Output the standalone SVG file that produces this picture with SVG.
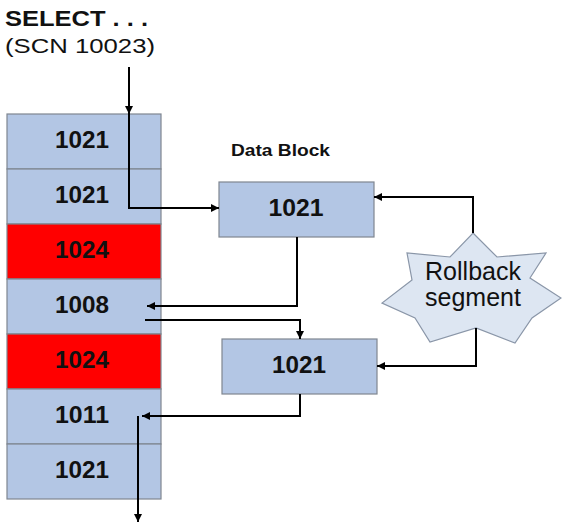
<svg xmlns="http://www.w3.org/2000/svg" width="562" height="523" viewBox="0 0 562 523">
<style>
  .cell { fill: #b3c6e4; stroke: #7f8690; stroke-width: 1.2; }
  .red { fill: #ff0000; stroke: #7f8690; stroke-width: 1.2; }
  .num { font-family: "Liberation Sans", Arial, sans-serif; font-weight: bold; font-size: 23px; fill: #111; text-anchor: middle; }
  .conn { fill: none; stroke: #000; stroke-width: 2; }
  .hdr { font-family: "Liberation Sans", Arial, sans-serif; fill: #111; }
</style>
<defs>
  <marker id="ah" viewBox="0 0 10 10" refX="10" refY="5" markerWidth="9" markerHeight="8" orient="auto" markerUnits="userSpaceOnUse">
    <path d="M0,0 L10,5 L0,10 z" fill="#000"/>
  </marker>
</defs>
<rect width="562" height="523" fill="#fff"/>

<g id="header">
  <text class="hdr" x="5" y="26" font-size="22" font-weight="bold" textLength="143" lengthAdjust="spacingAndGlyphs">SELECT . . .</text>
  <text class="hdr" x="5" y="53" font-size="21" textLength="150" lengthAdjust="spacingAndGlyphs">(SCN 10023)</text>
</g>

<g id="column">
  <g id="row1"><rect class="cell" x="7" y="114" width="154" height="55"/><text class="num" x="82" y="148" textLength="54" lengthAdjust="spacingAndGlyphs">1021</text></g>
  <g id="row2"><rect class="cell" x="7" y="169" width="154" height="55"/><text class="num" x="82" y="203" textLength="54" lengthAdjust="spacingAndGlyphs">1021</text></g>
  <g id="row3"><rect class="red" x="7" y="224" width="154" height="55"/><text class="num" x="82" y="258" textLength="54" lengthAdjust="spacingAndGlyphs">1024</text></g>
  <g id="row4"><rect class="cell" x="7" y="279" width="154" height="55"/><text class="num" x="82" y="313" textLength="54" lengthAdjust="spacingAndGlyphs">1008</text></g>
  <g id="row5"><rect class="red" x="7" y="334" width="154" height="55"/><text class="num" x="82" y="368" textLength="54" lengthAdjust="spacingAndGlyphs">1024</text></g>
  <g id="row6"><rect class="cell" x="7" y="389" width="154" height="55"/><text class="num" x="82" y="423" textLength="54" lengthAdjust="spacingAndGlyphs">1011</text></g>
  <g id="row7"><rect class="cell" x="7" y="444" width="154" height="55"/><text class="num" x="82" y="478" textLength="54" lengthAdjust="spacingAndGlyphs">1021</text></g>
</g>

<g id="datablock-label">
  <text class="hdr" x="231" y="156" font-size="17" font-weight="bold" textLength="99" lengthAdjust="spacingAndGlyphs">Data Block</text>
</g>

<g id="block1">
  <rect class="cell" x="219" y="182" width="155" height="55"/>
  <text class="num" x="296" y="216" textLength="55" lengthAdjust="spacingAndGlyphs">1021</text>
</g>

<g id="block2">
  <rect class="cell" x="222" y="339" width="155" height="55"/>
  <text class="num" x="299" y="373" textLength="54" lengthAdjust="spacingAndGlyphs">1021</text>
</g>

<g id="rollback">
  <polygon points="473,233 497,257 546,253 530,278 561,298 532,318 515,343 476,328 430,342 415,318 382,303 412,280 407,253 450,257" fill="#dde6f2" stroke="#8a96a8" stroke-width="1.2"/>
  <text class="hdr" x="473" y="280" font-size="25" text-anchor="middle">Rollback</text>
  <text class="hdr" x="473" y="306" font-size="25" text-anchor="middle">segment</text>
</g>

<g id="connectors">
  <path class="conn" d="M129,67 V114" marker-end="url(#ah)"/>
  <path class="conn" d="M129,114 V208 H219" marker-end="url(#ah)"/>
  <path class="conn" d="M297,237 V306 H147" marker-end="url(#ah)"/>
  <path class="conn" d="M145,320 H300 V339" marker-end="url(#ah)"/>
  <path class="conn" d="M300,394 V416 H142" marker-end="url(#ah)"/>
  <path class="conn" d="M138,416 V522" marker-end="url(#ah)"/>
  <path class="conn" d="M473,233 V197 H374" marker-end="url(#ah)"/>
  <path class="conn" d="M476,328 V366 H377" marker-end="url(#ah)"/>
</g>
</svg>
